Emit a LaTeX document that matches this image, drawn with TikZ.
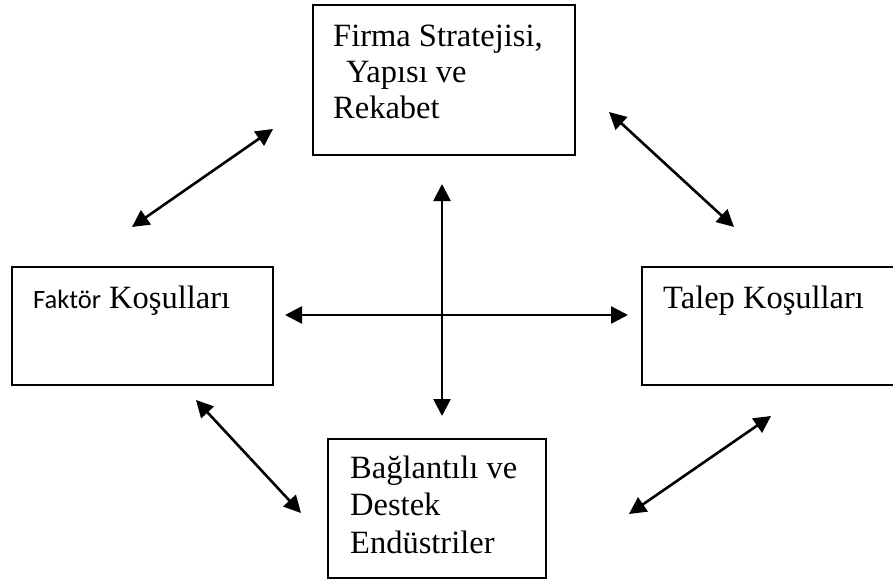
\documentclass[tikz,border=0pt]{standalone}
\usepackage{fontspec}
\setmainfont{Liberation Serif}
\newfontfamily\calibri{Carlito}
\usetikzlibrary{arrows.meta}
\begin{document}
\begin{tikzpicture}[x=1pt,y=-1pt,
  box/.style={draw=black,line width=2pt,rectangle,inner sep=0pt},
  txt/.style={anchor=base west,inner sep=0pt,font=\fontsize{32.5}{36}\selectfont},
  link/.style={line width=2.6pt,{Triangle[length=17pt,width=17pt]}-{Triangle[length=17pt,width=17pt]}}]
\useasboundingbox (0,0) rectangle (893,580);
\clip (0,0) rectangle (893,580);
% boxes
\node[box,minimum width=262pt,minimum height=150pt] (top) at (444,80) {};
\node[box,minimum width=261pt,minimum height=118pt] (left) at (142.5,326) {};
\node[box,minimum width=258pt,minimum height=118pt] (right) at (771,326) {};
\node[box,minimum width=218pt,minimum height=139pt] (bottom) at (437,508.5) {};
% texts
\node[txt] (t1) at (333,47) {Firma Stratejisi,};
\node[txt] (t2) at (346,83) {Yapısı ve};
\node[txt] (t3) at (333,119) {Rekabet};
\node[txt] (l1) at (33,308) {{\calibri\fontsize{26.5}{32}\selectfont Faktör} Koşulları};
\node[txt] (r1) at (663,308) {Talep Koşulları};
\node[txt] (b1) at (350,478) {Bağlantılı ve};
\node[txt] (b2) at (350,515) {Destek};
\node[txt] (b3) at (350,553) {Endüstriler};
% arrow end points
\coordinate (a1s) at (132,227); \coordinate (a1e) at (273,129);
\coordinate (a2s) at (609,112); \coordinate (a2e) at (734,227);
\coordinate (a3s) at (196,400); \coordinate (a3e) at (301,513);
\coordinate (a4s) at (629,514); \coordinate (a4e) at (771,416);
\coordinate (vs) at (442,184); \coordinate (ve) at (442,416);
\coordinate (hs) at (285,315); \coordinate (he) at (628,315);
\draw[link] (a1s) -- (a1e);
\draw[link] (a2s) -- (a2e);
\draw[link] (a3s) -- (a3e);
\draw[link] (a4s) -- (a4e);
\draw[link] (vs) -- (ve);
\draw[link] (hs) -- (he);
\end{tikzpicture}
\end{document}
